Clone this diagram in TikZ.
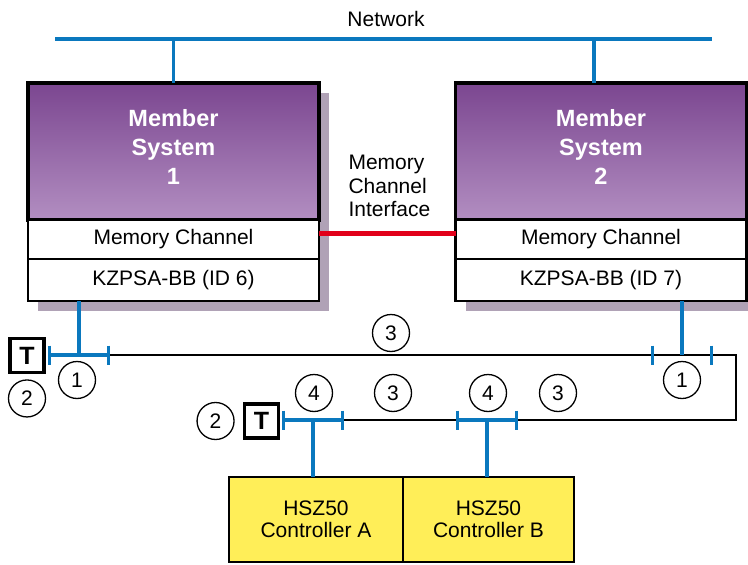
\documentclass[tikz,border=0pt]{standalone}
\usepackage{fontspec}
\setmainfont{Liberation Sans}
\usetikzlibrary{positioning, backgrounds, calc}
\definecolor{netblue}{HTML}{0A78BE}
\definecolor{mcred}{HTML}{E2001A}
\definecolor{ctlyellow}{HTML}{FFEE58}
\definecolor{systop}{HTML}{7B4690}
\definecolor{sysbot}{HTML}{B28EC1}
\definecolor{shadowc}{HTML}{B0A2B6}
\tikzset{
  sysbox/.style={rectangle, draw=black, line width=3.2pt, outer sep=0pt, minimum width=291pt,
    minimum height=137pt, top color=systop, bottom color=sysbot},
  systext/.style={font=\fontsize{23.5}{29}\selectfont\bfseries, text=white, align=center},
  rowbox/.style={rectangle, draw=black, line width=2.6pt, outer sep=0pt, fill=white,
    minimum width=291pt, font=\fontsize{21}{24}\selectfont},
  ctl/.style={rectangle, draw=black, line width=2.8pt, outer sep=0pt, fill=ctlyellow,
    minimum height=85pt, align=center, font=\fontsize{21}{22.5}\selectfont},
  num/.style={circle, draw=black, line width=1.3pt, minimum size=37pt, inner sep=0pt,
    font=\fontsize{21}{24}\selectfont},
  term/.style={rectangle, draw=black, line width=3.6pt, minimum size=34pt, inner sep=0pt,
    font=\fontsize{25}{25}\selectfont\bfseries},
  plain/.style={font=\fontsize{21}{23.5}\selectfont, align=left},
  blueln/.style={netblue, line width=3.3pt},
  netln/.style={netblue, line width=4pt},
  bus/.style={black, line width=1.3pt},
  tickmark/.style={netblue, line width=3.3pt},
}

\begin{document}
\begin{tikzpicture}[x=1pt, y=-1pt, node distance=0pt]
  \useasboundingbox (0,0) rectangle (748,565);

  % member systems
  \node[sysbox, label={[systext, yshift=5pt]center:Member\\System\\1}] (sys1) at (173.5,151.5) {};
  \node[rowbox, minimum height=39pt, below=of sys1] (mc1) {Memory Channel};
  \node[rowbox, minimum height=42pt, below=of mc1] (kz1) {KZPSA-BB (ID 6)};
  \node[sysbox, label={[systext, yshift=5pt]center:Member\\System\\2}] (sys2) at (601,151.5) {};
  \node[rowbox, minimum height=39pt, below=of sys2] (mc2) {Memory Channel};
  \node[rowbox, minimum height=42pt, below=of mc2] (kz2) {KZPSA-BB (ID 7)};
  \begin{scope}[on background layer]
    \foreach \a/\b in {sys1/kz1, sys2/kz2}
      \fill[shadowc] ($(\a.north west)+(10,10)$) rectangle ($(\b.south east)+(10,10)$);
  \end{scope}

  % network
  \node[plain] (net) at (386,19) {Network};
  \coordinate (netL) at (55,38.7);
  \coordinate (netR) at (712,38.7);
  \draw[netln] (netL) -- (netR);
  \draw[blueln] (sys1.north) -- (sys1.north |- netL);
  \draw[blueln] ($(sys2.north)+(-7,0)$) -- ($(sys2.north |- netL)+(-7,0)$);

  % memory channel interface
  \node[plain, anchor=west] (mci) at (345,186) {Memory\\Channel\\Interface};
  \draw[mcred, line width=5pt] ([yshift=6pt]mc1.east) -- ([yshift=6pt]mc2.west);

  % controllers
  \node[ctl, minimum width=174pt] (ctlA) at (316,519.5) {HSZ50\\Controller A};
  \node[ctl, minimum width=171pt, right=of ctlA] (ctlB) {HSZ50\\Controller B};

  % T connectors
  \foreach \n/\x/\y in {tcA/79/355, tcB/682/355, tcC/313/420, tcD/487/420} {
    \coordinate (\n) at (\x,\y);
    \coordinate (\n-w) at (\x-29.5,\y);
    \coordinate (\n-e) at (\x+29.5,\y);
  }
  \coordinate (busR) at (736,387);
  \draw[bus] (tcA-e) -| (busR) |- (tcD-e);
  \draw[bus, line width=2pt] (tcC-e) -- (tcD-w);
  \foreach \n in {tcA, tcC, tcD}
    \draw[blueln] (\n-w) -- (\n-e);
  \foreach \n in {tcA, tcB, tcC, tcD} {
    \draw[tickmark] ($(\n-w)+(0,-9.5)$) -- ($(\n-w)+(0,9.5)$);
    \draw[tickmark] ($(\n-e)+(0,-9.5)$) -- ($(\n-e)+(0,9.5)$);
  }
  \draw[blueln] (tcA) -- (tcA |- kz1.south);
  \draw[blueln] (tcB) -- (tcB |- kz2.south);
  \draw[blueln] (tcC) -- (tcC |- ctlA.north);
  \draw[blueln] (tcD) -- (tcD |- ctlB.north);

  % terminators and callouts
  \node[term] (tA) at (27,355.5) {T};
  \node[term] (tB) at (261.5,421) {T};
  \node[num, below=5pt of tA] (n2a) {2};
  \node[num, left=8pt of tB] (n2b) {2};
  \node[num] (n1a) at (77,380) {1};
  \node[num] (n1b) at (682,380) {1};
  \node[num] (n3a) at (391,333) {3};
  \node[num] (n4a) at (314,393) {4};
  \node[num] (n3b) at (393,393) {3};
  \node[num] (n4b) at (488,393) {4};
  \node[num] (n3c) at (558,393) {3};
\end{tikzpicture}
\end{document}
